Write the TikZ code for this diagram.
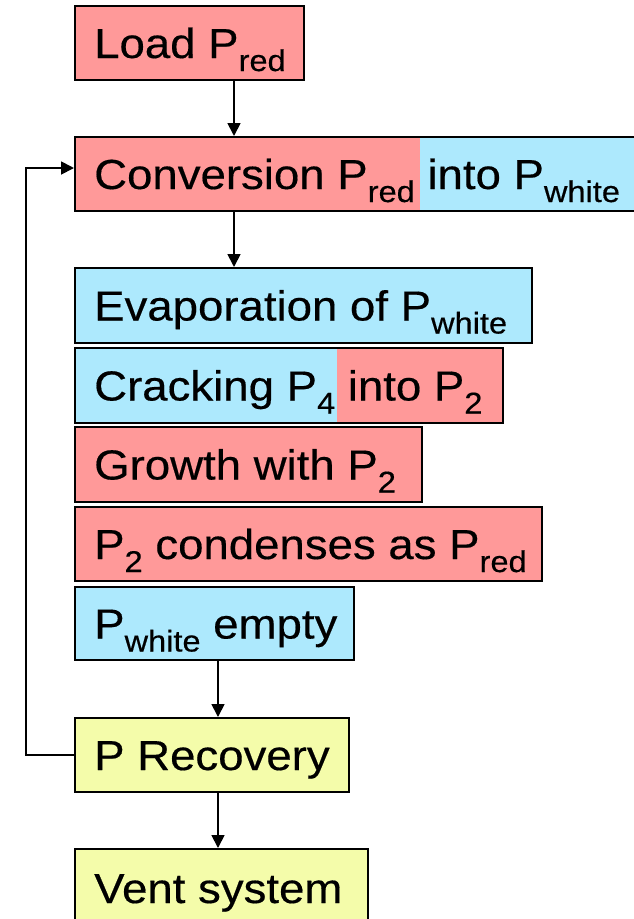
\documentclass[tikz,border=0pt]{standalone}
\usepackage{fontspec}
\setmainfont{Liberation Sans}[FakeStretch=1.085,FakeBold=0.4]
\usetikzlibrary{arrows.meta,calc}
\definecolor{redc}{RGB}{255,153,153}
\definecolor{bluec}{RGB}{173,233,253}
\definecolor{yelc}{RGB}{244,252,170}
\newcommand\psub[1]{\raisebox{-13pt}{\fontsize{30}{30}\selectfont #1}}
\tikzset{
  box/.style={draw=black, line width=2pt, rectangle, inner sep=0pt, anchor=north west},
  lbl/.style={anchor=base west, inner sep=0pt, font=\fontsize{42}{42}\selectfont},
  arr/.style={draw=black, line width=1.8pt, -{Triangle[length=13pt,width=13pt]}},
  splitfill/.style={path picture={\fill[#1] ($(path picture bounding box.north west)+(\splitx,0)$) rectangle (path picture bounding box.south east);}}
}
\newcommand\splitx{0}
\begin{document}
\begin{tikzpicture}[x=1pt,y=-1pt]
\useasboundingbox (0,0) rectangle (633,919);
% boxes
\node[box, fill=redc, minimum width=229pt, minimum height=74pt] (load) at (74,5) {};
\renewcommand\splitx{345}
\node[box, fill=redc, splitfill=bluec, minimum width=580pt, minimum height=74pt] (conv) at (74,136) {};
\node[box, fill=bluec, minimum width=457pt, minimum height=75pt] (evap) at (74,267) {};
\renewcommand\splitx{262}
\node[box, fill=bluec, splitfill=redc, minimum width=428pt, minimum height=75pt] (crack) at (74,347) {};
\node[box, fill=redc, minimum width=347pt, minimum height=75pt] (grow) at (74,426) {};
\node[box, fill=redc, minimum width=467pt, minimum height=74pt] (cond) at (74,506) {};
\node[box, fill=bluec, minimum width=279pt, minimum height=73pt] (empty) at (74,586) {};
\node[box, fill=yelc, minimum width=274pt, minimum height=74pt] (recov) at (74,717) {};
\node[box, fill=yelc, minimum width=293pt, minimum height=90pt] (vent) at (74,848) {};
% labels
\node[lbl] (tload) at ($(load.west)+(20,15)$) {Load P\psub{red}};
\node[lbl] (tconv) at ($(conv.west)+(20,15)$) {Conversion P\psub{red} into P\psub{white}};
\node[lbl] (tevap) at ($(evap.west)+(20,15)$) {Evaporation of P\psub{white}};
\node[lbl] (tcrack) at ($(crack.west)+(20,15)$) {Cracking P\psub{4} into P\psub{2}};
\node[lbl] (tgrow) at ($(grow.west)+(20,15)$) {Growth with P\psub{2}};
\node[lbl] (tcond) at ($(cond.west)+(20,15)$) {P\psub{2} condenses as P\psub{red}};
\node[lbl] (tempty) at ($(empty.west)+(20,15)$) {P\psub{white} empty};
\node[lbl] (trecov) at ($(recov.west)+(20,15)$) {P Recovery};
\node[lbl] (tvent) at (94,903) {Vent system};
% arrows
\coordinate (ax1) at (234,0);
\coordinate (ax2) at (218,0);
\coordinate (fbx) at (26,0);
\coordinate (fbin) at (74,168);
\draw[arr] (load.south -| ax1) -- (conv.north -| ax1);
\draw[arr] (conv.south -| ax1) -- (evap.north -| ax1);
\draw[arr] (empty.south -| ax2) -- (recov.north -| ax2);
\draw[arr] (recov.south -| ax2) -- (vent.north -| ax2);
\draw[arr] (recov.west) -| (fbx |- fbin) -- (fbin);
\end{tikzpicture}
\end{document}
